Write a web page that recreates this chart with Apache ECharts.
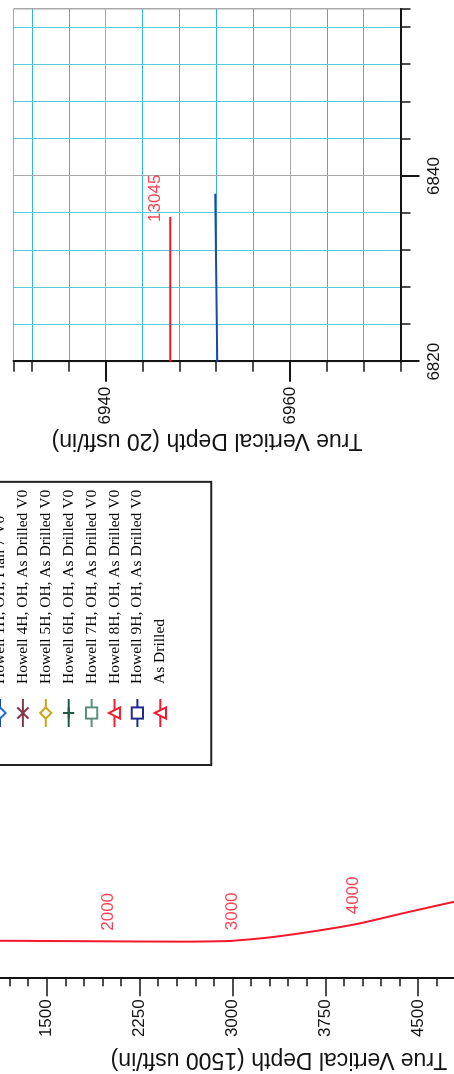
<!DOCTYPE html>
<html>
<head>
<meta charset="utf-8">
<title>Howell 1H - As Drilled</title>
<script src="https://cdn.jsdelivr.net/npm/echarts@6/dist/echarts.min.js"></script>
<style>
  html, body { margin: 0; padding: 0; background: #fff; }
  #page { position: relative; width: 454px; height: 1074px; overflow: hidden; }
  /* the sheet was scanned sideways: draw it upright, then turn it */
  #chart { position: absolute; left: 0; top: 0; width: 1074px; height: 454px;
    transform-origin: 0 0; transform: translateY(1074px) rotate(-90deg); }
</style>
</head>
<body>
<div id="page"><div id="chart"></div></div>
<script>
// as drilled survey in the main plot (usft)
const drilledTvd = [0, 1120, 1530, 1930, 2600, 2875, 3000, 3280, 3545, 3810, 4030, 4350, 4620, 4790];
const drilledVs = [0, 3, 1, -1, -4, -1, 3, 28, 63, 104, 144, 219, 280, 318];

// MD annotations along the as drilled line
const mdLabels = ['2000', '3000', '4000'];
const mdTvd = [1995, 2996, 3975];
const mdVs = [-1, 3, 132];

// inset (20 usft/in): end of the lateral
const lateralVs = [6820, 6835.6];
const lateralTvd = [6947, 6947];
const tdLabel = '13045';
const planVs = [6820, 6838.1];
const planTvd = [6952.1, 6951.9];

// tick labels
const mainTvdTicks = [1500, 2250, 3000, 3750, 4500];
const insetTvdTicks = [6940, 6960];
const insetVsTicks = [6820, 6840];

const wells = [
  'Howell 1H, OH, Plan 7 V0',
  'Howell 4H, OH, As Drilled V0',
  'Howell 5H, OH, As Drilled V0',
  'Howell 6H, OH, As Drilled V0',
  'Howell 7H, OH, As Drilled V0',
  'Howell 8H, OH, As Drilled V0',
  'Howell 9H, OH, As Drilled V0',
  'As Drilled',
];

const SANS = 'Liberation Sans, Arial, sans-serif';
const INK = '#141414';
const GREY = '#a8a8a8';
const RED = '#f5172a';

const pairs = (xs, ys) => xs.map((x, i) => [x, ys[i]]);

// split line colours follow the tick order: majors grey, the rest cyan
const vsColors = [];
for (let v = 6820; v <= 6856; v += 4) vsColors.push(v % 20 === 0 ? GREY : '#55ccd8');
vsColors.push(GREY);
const tvdColors = [GREY];
for (let v = 6932; v <= 6972; v += 4) tvdColors.push(v % 20 === 0 ? GREY : '#33b5ec');

const X_PATH = 'path://M0,0L10,10M10,0L0,10';
const PLUS_PATH = 'path://M5,0L5,10M0,5L10,5';

const offsetWell = (name, symbol, color) => ({
  name: name,
  type: 'line',
  xAxisIndex: 1,
  yAxisIndex: 1,
  data: [],
  symbol: symbol,
  lineStyle: { color: color, width: 1.5 },
  itemStyle: { color: color, borderColor: color, borderWidth: 1.5 },
});

const chart = echarts.init(document.getElementById('chart'), null, { renderer: 'canvas' });

const option = {
  animation: false,
  backgroundColor: '#fff',
  legend: {
    data: wells,
    orient: 'vertical',
    left: 309,
    top: -18,
    itemWidth: 28,
    itemHeight: 14,
    itemGap: 6.9,
    padding: [10, 8, 43, 37],
    borderColor: '#222',
    borderWidth: 2,
    selectedMode: false,
    textStyle: { fontFamily: 'Liberation Serif, Times New Roman, serif', fontSize: 15.5, color: '#000', padding: [0, 0, 0, 10] },
  },
  grid: [
    { left: 95.7, right: 0, top: -46.2, bottom: -150, show: false, outerBoundsMode: 'none' },
    {
      left: 712.3, right: 9, top: 13.5, bottom: 53.5, outerBoundsMode: 'none',
      show: true, backgroundColor: '#fff', borderColor: GREY, borderWidth: 1,
    },
  ],
  xAxis: [
    { gridIndex: 0, type: 'value', min: -300, max: 7600, show: false },
    {
      gridIndex: 1, type: 'value', min: 6820, max: 6858, interval: 4, position: 'bottom',
      axisLine: { onZero: false, lineStyle: { color: INK, width: 2 } },
      axisTick: { length: 10, lineStyle: { color: INK, width: 1.5 } },
      axisLabel: {
        formatter: (v) => (insetVsTicks.indexOf(v) > -1 ? String(v) : ''),
        fontFamily: SANS, fontSize: 17, color: INK, margin: 25,
      },
      splitLine: { show: true, lineStyle: { color: vsColors, width: 1 } },
    },
    {
      gridIndex: 1, type: 'value', min: 6820, max: 6858, position: 'bottom',
      axisLine: { show: false },
      axisTick: { customValues: insetVsTicks, length: 19, lineStyle: { color: INK, width: 2 } },
      axisLabel: { show: false },
      splitLine: { show: false },
    },
  ],
  yAxis: [
    {
      gridIndex: 0, type: 'value', min: 750, max: 6000, interval: 750, inverse: true, position: 'left',
      name: 'True Vertical Depth (1500 usft/in)',
      nameLocation: 'middle', nameRotate: 90, nameGap: 64,
      nameTextStyle: { fontFamily: SANS, fontSize: 23, color: INK },
      axisLine: { onZero: false, lineStyle: { color: INK, width: 2 } },
      axisTick: { length: 18, lineStyle: { color: INK, width: 1.5 } },
      minorTick: { show: true, splitNumber: 5, length: 8, lineStyle: { color: INK, width: 1.5 } },
      axisLabel: {
        formatter: (v) => (mainTvdTicks.indexOf(v) > -1 ? String(v) : ''),
        fontFamily: SANS, fontSize: 17, color: INK, margin: 21,
      },
      splitLine: { show: false },
    },
    {
      gridIndex: 1, type: 'value', min: 6930, max: 6972, minInterval: 4, maxInterval: 4, splitNumber: 10,
      inverse: true, position: 'left',
      name: 'True Vertical Depth (20 usft/in)',
      nameLocation: 'middle', nameRotate: 90, nameGap: 65,
      nameTextStyle: { fontFamily: SANS, fontSize: 23, color: INK },
      axisLine: { onZero: false, lineStyle: { color: INK, width: 2 } },
      axisTick: { length: 10, lineStyle: { color: INK, width: 1.5 } },
      axisLabel: {
        formatter: (v) => (insetTvdTicks.indexOf(v) > -1 ? String(v) : ''),
        fontFamily: SANS, fontSize: 17, color: INK, margin: 25,
      },
      splitLine: { show: true, lineStyle: { color: tvdColors, width: 1 } },
    },
    {
      gridIndex: 1, type: 'value', min: 6930, max: 6972, inverse: true, position: 'left',
      axisLine: { show: false },
      axisTick: { customValues: insetTvdTicks, length: 20, lineStyle: { color: INK, width: 2 } },
      axisLabel: { show: false },
      splitLine: { show: false },
    },
  ],
  series: [
    {
      name: wells[0],
      type: 'line',
      xAxisIndex: 1,
      yAxisIndex: 1,
      data: pairs(planVs, planTvd),
      symbol: 'emptyDiamond',
      showSymbol: false,
      lineStyle: { color: '#1d48aa', width: 2 },
      itemStyle: { color: '#1c68dc' },
    },
    offsetWell(wells[1], X_PATH, '#853848'),
    offsetWell(wells[2], 'emptyDiamond', '#c9a51c'),
    offsetWell(wells[3], PLUS_PATH, '#1f5a42'),
    offsetWell(wells[4], 'emptyRect', '#5b8f80'),
    offsetWell(wells[5], 'emptyTriangle', '#f51e2e'),
    offsetWell(wells[6], 'emptyRect', '#222a90'),
    {
      name: 'As Drilled',
      type: 'line',
      xAxisIndex: 0,
      yAxisIndex: 0,
      data: pairs(drilledVs, drilledTvd),
      symbol: 'emptyTriangle',
      showSymbol: false,
      smooth: 0.35,
      lineStyle: { color: RED, width: 2 },
      itemStyle: { color: RED },
    },
    {
      name: 'As Drilled',
      type: 'line',
      xAxisIndex: 1,
      yAxisIndex: 1,
      data: pairs(lateralVs, lateralTvd),
      symbol: 'emptyTriangle',
      showSymbol: false,
      lineStyle: { color: RED, width: 2 },
      itemStyle: { color: RED },
    },
    {
      name: 'MD',
      type: 'scatter',
      xAxisIndex: 0,
      yAxisIndex: 0,
      symbolSize: 1,
      itemStyle: { color: 'rgba(0,0,0,0)' },
      data: mdLabels.map((m, i) => ({ name: m, value: [mdVs[i], mdTvd[i]] })),
      label: { show: true, formatter: '{b}', position: 'right', distance: 10, fontFamily: SANS, fontSize: 17, color: RED },
    },
    {
      name: 'TD',
      type: 'scatter',
      xAxisIndex: 1,
      yAxisIndex: 1,
      symbolSize: 1,
      itemStyle: { color: 'rgba(0,0,0,0)' },
      data: [{ name: tdLabel, value: [lateralVs[lateralVs.length - 1], lateralTvd[lateralTvd.length - 1]] }],
      label: { show: true, formatter: '{b}', position: 'top', align: 'left', offset: [-5, 0], distance: 6, fontFamily: SANS, fontSize: 17, color: RED },
    },
  ],
};

chart.setOption(option);
</script>
</body>
</html>
